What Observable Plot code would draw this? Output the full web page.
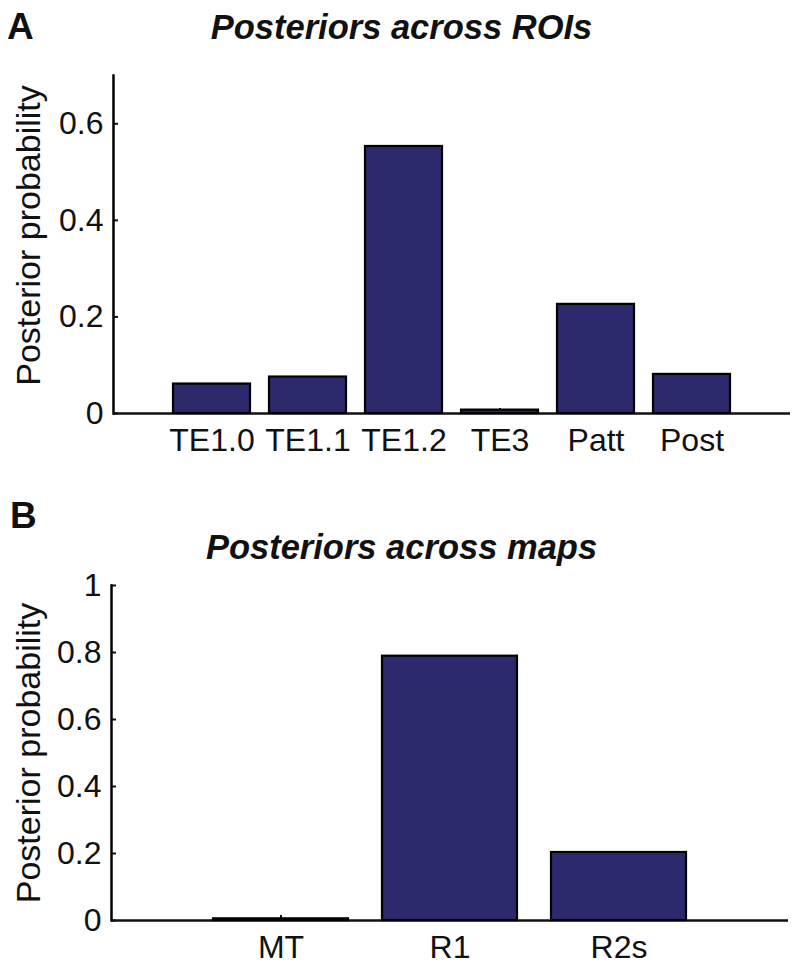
<!DOCTYPE html>
<html>
<head>
<meta charset="utf-8">
<script src="https://cdn.jsdelivr.net/npm/d3@7"></script>
<script src="https://cdn.jsdelivr.net/npm/@observablehq/plot@0.6"></script>
<style>
  html, body { margin: 0; padding: 0; background: #fff; }
  #root { position: relative; width: 795px; height: 973px; font-family: "Liberation Sans", Arial, Helvetica, sans-serif; color: #111; }
  .lbl { position: absolute; font-weight: bold; font-size: 37px; line-height: 37px; }
  .ttl { position: absolute; left: 0; width: 803px; text-align: center; font-weight: bold; font-style: italic; font-size: 34.5px; line-height: 34px; }
  .pl { position: absolute; left: 0; }
</style>
</head>
<body>
<div id="root">
  <div class="lbl" style="left:7px; top:8px;">A</div>
  <div class="ttl" style="top:10px;">Posteriors across ROIs</div>
  <div class="pl" id="plotA" style="top:0px;"></div>
  <div class="lbl" style="left:10px; top:497px;">B</div>
  <div class="ttl" style="top:530px;">Posteriors across maps</div>
  <div class="pl" id="plotB" style="top:480px;"></div>
</div>
<script>
// Panel A data
const roiNames = ["TE1.0", "TE1.1", "TE1.2", "TE3", "Patt", "Post"];
const roiValues = [0.061, 0.0755, 0.553, 0.007, 0.226, 0.081];
const roiTicks = [0, 0.2, 0.4, 0.6];
const roiDomain = [0, 0.7];

// Panel B data
const mapNames = ["MT", "R1", "R2s"];
const mapValues = [0.005, 0.789, 0.203];
const mapTicks = [0, 0.2, 0.4, 0.6, 0.8, 1];
const mapDomain = [0, 1];

const barColor = "#2c2a6c";
const fmt = d => d === 0 ? "0" : d === 1 ? "1" : d3.format(".1f")(d);

function panel(names, values, ticks, domain, opts) {
  const data = names.map((n, i) => ({name: n, value: values[i]}));
  return Plot.plot({
    width: 795,
    height: opts.height,
    marginLeft: opts.ml,
    marginRight: opts.mr,
    marginTop: opts.mt,
    marginBottom: opts.mb,
    style: {fontFamily: '"Liberation Sans", Arial, sans-serif', fontSize: "32px", color: "#111", background: "transparent", overflow: "visible"},
    x: {type: "band", domain: names, paddingInner: 0.2, paddingOuter: 0.6, align: 0.5},
    y: {domain: domain, nice: false},
    marks: [
      Plot.axisX({tickSize: -5, tickPadding: 20, strokeWidth: 2, fontSize: 32, label: null}),
      Plot.axisY({ticks: ticks, tickFormat: fmt, tickSize: -5, tickPadding: 15, strokeWidth: 2, fontSize: 32, label: null}),
      Plot.frame({anchor: "left", stroke: "#000", strokeWidth: 2.5}),
      Plot.ruleY([0], {strokeWidth: 2.5}),
      Plot.barY(data, {x: "name", y: "value", fill: barColor, stroke: "#000", strokeWidth: 2.2}),
      Plot.text(["Posterior probability"], {frameAnchor: "left", rotate: -90, dx: opts.ldx, dy: opts.ldy, fontSize: 34, textAnchor: "middle", fill: "#111"})
    ]
  });
}

document.getElementById("plotA").appendChild(
  panel(roiNames, roiValues, roiTicks, roiDomain, {height: 470, ml: 113, mr: 5, mt: 75, mb: 57, ldx: -84, ldy: -9})
);
document.getElementById("plotB").appendChild(
  panel(mapNames, mapValues, mapTicks, mapDomain, {height: 493, ml: 111, mr: 7, mt: 105, mb: 53, ldx: -82, ldy: 0})
);
</script>
</body>
</html>
